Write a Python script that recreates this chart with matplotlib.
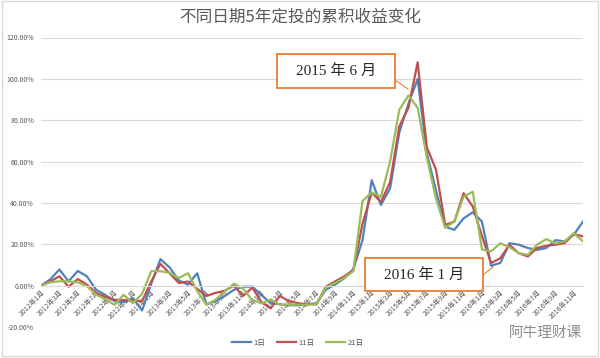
import matplotlib
matplotlib.use('Agg')
import matplotlib.pyplot as plt
from matplotlib.patches import Rectangle
from matplotlib.lines import Line2D

plt.rcParams['font.family'] = ['Noto Sans CJK SC', 'DejaVu Sans']

# 2012年1月 ~ 2016年12月, 每月一个点
months = ['%d年%d月' % (y, m) for y in range(2012, 2017) for m in range(1, 13)]

day1 = [0, 3, 7.8, 2.1, 7.1, 4.5, -2, -4.5, -7.5, -8,
        -6, -12, 1, 12.8, 8.8, 2.5, 0.5, 6, -9, -7.5,
        -5, -2, -0.5, -0.5, -4.5, -8.5, -9, -9.5, -9.5, -9,
        -8.5, -2, 0.5, 3.5, 8, 22, 51, 39, 47, 74,
        88, 100, 64, 46, 28.5, 27, 32.5, 35.5, 31, 9.6,
        11, 20.5, 19.8, 18.2, 17.3, 18.2, 22, 21.4, 24.6, 31]
day11 = [0, 2, 4.5, -0.5, 3.2, 0.5, -3.5, -5.5, -6.8, -7,
         -7.2, -7.5, 2, 10.5, 6, 1.3, 2, -1.5, -5, -3.5,
         -2.5, 0, -5, -1, -8, -11, -5, -7.5, -8.5, -9,
         -9, -0.5, 2, 4.5, 7.5, 30, 45, 40.5, 50, 77,
         86, 108, 67, 56, 29.4, 31, 44.7, 38.3, 24, 10.9,
         13.3, 19.8, 15.7, 14.1, 18.2, 19.3, 19.8, 20.6, 25, 23.8]
day21 = [0, 1.6, 2.1, 2.1, 1.6, -0.3, -4.4, -6.5, -9.3, -4.4,
         -8.5, -4, 7, 7, 6.2, 3.7, 6, -2.5, -9.3, -6.8,
         -2.8, 1, -1.5, -7, -8.5, -6.8, -9.2, -9.2, -9.2, -9.2,
         -9, -1, 1.3, 3.7, 7, 41, 45, 43, 60, 85,
         92, 86, 62, 42, 28, 31, 43, 45.4, 17.5, 16.6,
         20.5, 18.6, 15.7, 14.9, 19.8, 22.5, 20.5, 21.4, 25.4, 21.4]

series = [('1日', day1, '#4F81BD'), ('11日', day11, '#C0504D'), ('21日', day21, '#9BBB59')]
gray = '#595959'
orange = '#ED7D31'

W, H = 600, 358
fig = plt.figure(figsize=(6, 3.58), dpi=100)
fig.patches.append(Rectangle((0.004, 0.006), 0.992, 0.99, transform=fig.transFigure,
                             fill=False, edgecolor='#D9D9D9', linewidth=1))
ax = fig.add_axes([41 / W, 31 / H, 542 / W, 289.5 / H])

x = list(range(len(months)))
for name, vals, c in series:
    ax.plot(x, vals, color=c, linewidth=1.6, label=name)

ax.set_xlim(0, len(months) - 1)
ax.set_ylim(-20, 120)
ax.set_yticks(range(-20, 121, 20))
ax.set_yticklabels(['%.2f%%' % v for v in range(-20, 121, 20)], fontsize=5, color=gray)
ax.grid(axis='y', color='#D9D9D9', linewidth=0.8)
ax.set_axisbelow(True)
for s in ['top', 'right', 'left']:
    ax.spines[s].set_visible(False)
ax.spines['bottom'].set_position(('data', 0))
ax.spines['bottom'].set_color('#D9D9D9')
ax.tick_params(axis='y', length=0, pad=5)
ax.tick_params(axis='x', length=0, pad=2)
ax.set_xticks(x[::2])
ax.set_xticklabels(months[::2], fontsize=5, color=gray, rotation=45,
                   ha='right', va='top', rotation_mode='anchor')

fig.text(0.5, 0.952, '不同日期5年定投的累积收益变化', ha='center', va='center',
         fontsize=12, color=gray)


# 标注框 (像素坐标)
def callout(text, left, top, right, bottom, line):
    fig.patches.append(Rectangle((left / W, 1 - bottom / H), (right - left) / W, (bottom - top) / H,
                                 transform=fig.transFigure, facecolor='white',
                                 edgecolor=orange, linewidth=1.3, zorder=5))
    fig.lines.append(Line2D([p[0] / W for p in line], [1 - p[1] / H for p in line],
                            transform=fig.transFigure, color=orange, linewidth=0.8, zorder=5))
    fig.text((left + right) / 2 / W, 1 - (top + bottom) / 2 / H, text, ha='center', va='center',
             fontsize=11, color='#262626', family=['Liberation Serif', 'Noto Sans CJK SC'], zorder=6)


callout('2015 年 6 月', 277, 54, 395, 88, [(395, 80), (408, 89)])
callout('2016 年 1 月', 365, 258, 483, 291, [(483, 275), (493, 267)])

ax.legend(loc='center', bbox_to_anchor=(298 / W, 15 / H), bbox_transform=fig.transFigure,
          ncol=3, frameon=False, fontsize=5.5, handlelength=2.5, columnspacing=1.5,
          handletextpad=0.3, labelcolor=gray)

fig.text(545 / W, 1 - 333 / H, '阿牛理财课', ha='center', va='center',
         fontsize=10.5, color='#8C8C8C')

fig.savefig('out.png', dpi=100)
